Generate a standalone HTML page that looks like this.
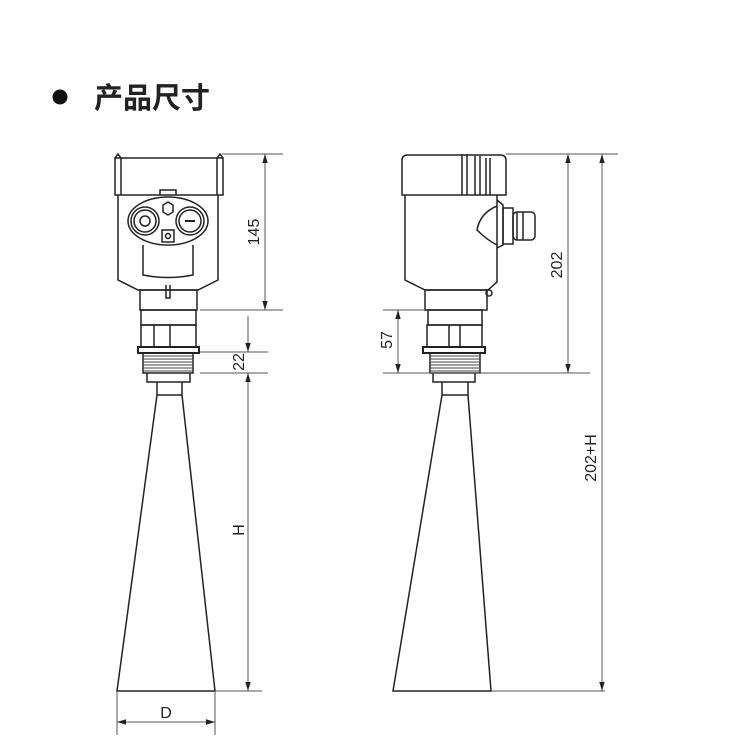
<!DOCTYPE html>
<html><head><meta charset="utf-8"><style>
html,body{margin:0;padding:0;background:#fff}
svg{display:block}
text{font-family:"Liberation Sans",Arial,sans-serif;fill:#222}
</style></head><body>
<svg width="750" height="750" viewBox="0 0 750 750" xmlns="http://www.w3.org/2000/svg">
<defs>
<marker id="a" viewBox="0 0 10 10" refX="10" refY="5" markerWidth="9" markerHeight="9" orient="auto-start-reverse" markerUnits="userSpaceOnUse"><path d="M0,2 L10,5 L0,8z" fill="#222"/></marker>
</defs>
<circle cx="60" cy="97" r="7.5" fill="#111"/>
<text x="94" y="108" font-size="29" font-weight="bold" style="font-family:'Liberation Sans','Noto Sans CJK SC',sans-serif" fill="#111">产品尺寸</text>

<g fill="none" stroke="#222" stroke-width="1.5">
<!-- LEFT DEVICE -->
<path d="M115,158 L118,154 L121,158 L121,195 M223,158 L220,154 L217,158 L217,195"/>
<rect x="115" y="158" width="108" height="37"/>
<path d="M118,195 L118,280 L138,290 L198,290 L218,280 L218,195"/>
<path d="M160,195 L160,190 L176,190 L176,195"/>
<ellipse cx="168" cy="221" rx="40" ry="24"/>
<circle cx="145" cy="221" r="14"/><circle cx="145" cy="221" r="11"/><circle cx="145" cy="221" r="5"/>
<circle cx="190" cy="221" r="14"/><circle cx="190" cy="221" r="11"/>
<line x1="185" y1="221" x2="195" y2="221" stroke-width="2"/>
<polygon points="163,205 168,202 173,205 173,212 168,215 163,212"/>
<rect x="162" y="230" width="12" height="12"/><circle cx="168" cy="236" r="2.5"/>
<path d="M143,245 L143,275 Q168,280 193,275 L193,245"/>
<path d="M166,285 L166,298 L170,298 L170,285"/>
<rect x="140" y="290" width="57" height="20"/>
<rect x="141" y="310" width="55" height="15"/>
<rect x="141" y="325" width="55" height="22"/>
<line x1="154" y1="325" x2="154" y2="347"/><line x1="170" y1="325" x2="170" y2="347"/>
<rect x="138" y="347" width="61" height="6" stroke-width="2"/>
<rect x="143" y="353" width="50" height="20"/>
<path d="M147,373 L147,382 L190,382 L190,373"/>
<path d="M157,382 L157,395 L117,691 L215,691 L182,395 L182,382"/>
<line x1="157" y1="395" x2="182" y2="395"/>

<!-- RIGHT DEVICE -->
<path d="M462,154 L462,195 M467,154 L467,195 M475,156 L475,195 M480,156 L480,195 M486,158 L486,195 M490,158 L490,195"/>
<path d="M402,160 Q402,155 408,155 L500,155 Q506,155 506,160 L506,195 L402,195 Z"/>
<path d="M405,195 L405,280 L425,290 L488,290 L497,282 L497,195"/>
<path d="M497,200 L503,205 L503,245 L497,248"/>
<path d="M497,206 Q480,213 477,230 Q487,240 497,245"/>
<rect x="503" y="208" width="10" height="36"/>
<rect x="513" y="212" width="22" height="28" rx="4"/>
<line x1="517" y1="212" x2="517" y2="240"/><line x1="523" y1="212" x2="523" y2="240"/>
<circle cx="489" cy="293" r="3"/>
<rect x="425" y="290" width="62" height="20"/>
<rect x="428" y="310" width="54" height="15"/>
<rect x="427" y="325" width="55" height="22"/>
<line x1="449" y1="325" x2="449" y2="347"/><line x1="460" y1="325" x2="460" y2="347"/>
<rect x="423" y="347" width="62" height="6" stroke-width="2"/>
<rect x="430" y="353" width="50" height="20"/>
<path d="M433,373 L433,382 L475,382 L475,373"/>
<path d="M442,382 L442,395 L393,691 L491,691 L468,395 L468,382"/>
<line x1="442" y1="395" x2="468" y2="395"/>
</g>
<g stroke="#444" stroke-width="1">
<path d="M143,356H193M143,359H193M143,362H193M143,365H193M143,368H193M143,371H193"/>
<path d="M430,356H480M430,359H480M430,362H480M430,365H480M430,368H480M430,371H480"/>
</g>

<g stroke="#555" stroke-width="1" fill="none">
<line x1="222" y1="154" x2="283" y2="154"/>
<line x1="200" y1="310" x2="283" y2="310"/>
<line x1="265" y1="154" x2="265" y2="310" marker-start="url(#a)" marker-end="url(#a)"/>
<line x1="200" y1="352" x2="268" y2="352"/>
<line x1="200" y1="373" x2="268" y2="373"/>
<line x1="248" y1="316" x2="248" y2="352" marker-end="url(#a)"/>
<line x1="248" y1="373" x2="248" y2="691" marker-start="url(#a)" marker-end="url(#a)"/>
<line x1="215" y1="691" x2="262" y2="691"/>
<line x1="117" y1="691" x2="117" y2="735"/>
<line x1="215" y1="691" x2="215" y2="735"/>
<line x1="117" y1="722" x2="215" y2="722" marker-start="url(#a)" marker-end="url(#a)"/>

<line x1="506" y1="154" x2="618" y2="154"/>
<line x1="383" y1="373" x2="590" y2="373"/>
<line x1="383" y1="310" x2="425" y2="310"/>
<line x1="398" y1="310" x2="398" y2="373" marker-start="url(#a)" marker-end="url(#a)"/>
<line x1="568" y1="154" x2="568" y2="373" marker-start="url(#a)" marker-end="url(#a)"/>
<line x1="602" y1="154" x2="602" y2="691" marker-start="url(#a)" marker-end="url(#a)"/>
<line x1="491" y1="691" x2="605" y2="691"/>
</g>
<g font-size="16">
<text transform="translate(259,232) rotate(-90)" text-anchor="middle">145</text>
<text transform="translate(244,362) rotate(-90)" text-anchor="middle">22</text>
<text transform="translate(244,530) rotate(-90)" text-anchor="middle">H</text>
<text x="166" y="718" text-anchor="middle">D</text>
<text transform="translate(392,340) rotate(-90)" text-anchor="middle">57</text>
<text transform="translate(562,265) rotate(-90)" text-anchor="middle">202</text>
<text transform="translate(596,458) rotate(-90)" text-anchor="middle">202+H</text>
</g>
</svg>
</body></html>
